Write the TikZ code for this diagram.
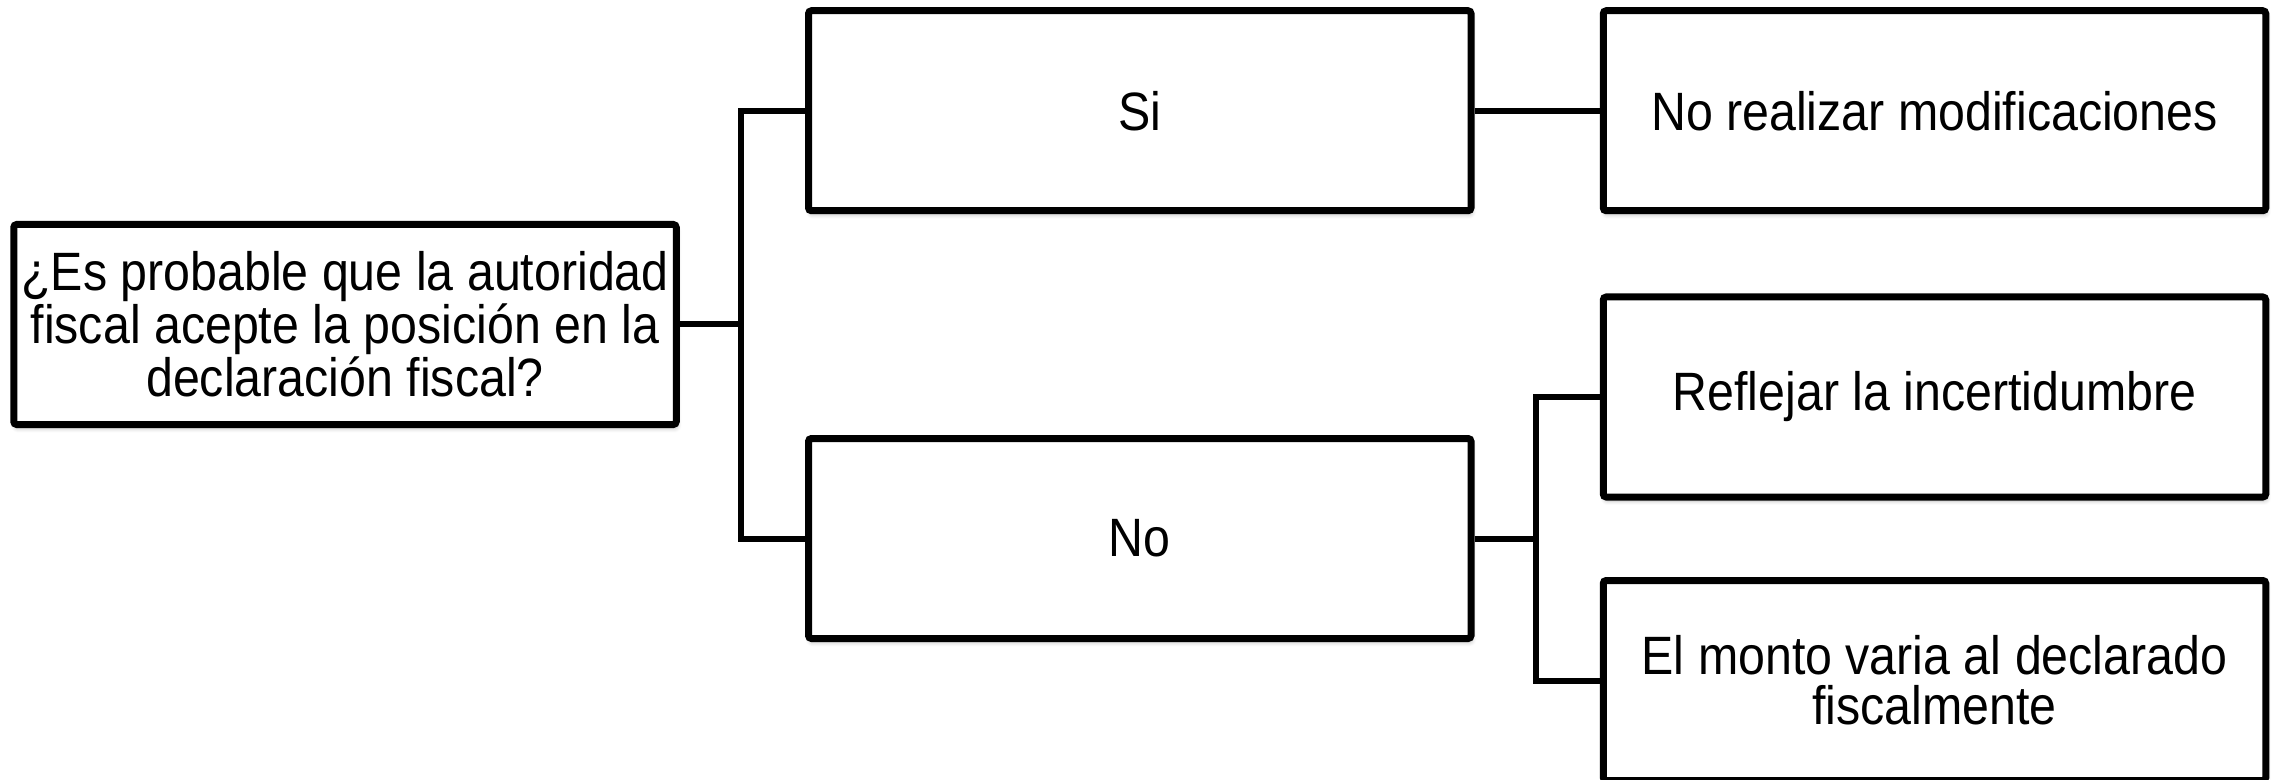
\documentclass[tikz,border=0pt]{standalone}
\usepackage{fontspec}
\setmainfont{Liberation Sans}[FakeStretch=0.895]
\usetikzlibrary{shadows.blur}

\tikzset{
  box/.style={draw=black, line width=3.5pt, fill=white, rounded corners=1.5pt,
    minimum width=331.25pt, minimum height=100pt, align=center, inner sep=0pt,
    font=\fontsize{27}{25}\selectfont,
    blur shadow={shadow xshift=0.6pt, shadow yshift=-2pt, shadow blur steps=6, shadow opacity=25}},
  conn/.style={draw=black, line width=3pt}
}

\begin{document}
\begin{tikzpicture}[x=0.5pt, y=-0.5pt]
  \useasboundingbox (0,0) rectangle (2279,780);

  % question and first-level answers
  \node[box] (q) at (345,324.5)
    {¿Es probable que la autoridad\\fiscal acepte la posición en la\\declaración fiscal?};
  \node[box] (si) at (1139.75,110.75) {Si};
  \node[box] (no) at (1139.75,538.5) {No};

  % outcomes
  \node[box] (nomod) at (1934.5,110.75) {No realizar modificaciones};
  \node[box] (refl) at (1934.5,397) {Reflejar la incertidumbre};
  \node[box] (monto) at (1934.5,680.5) {El monto varia al declarado\\fiscalmente};

  % junction points of the branches
  \coordinate (j1) at (741,324.5);
  \coordinate (j2) at (1536,538.5);

  \draw[conn] (q.east) -- (j1);
  \draw[conn] (si.west) -| (j1) |- (no.west);
  \draw[conn] (si.east) -- (nomod.west);
  \draw[conn] (no.east) -- (j2);
  \draw[conn] (refl.west) -| (j2) |- (monto.west);
\end{tikzpicture}
\end{document}
